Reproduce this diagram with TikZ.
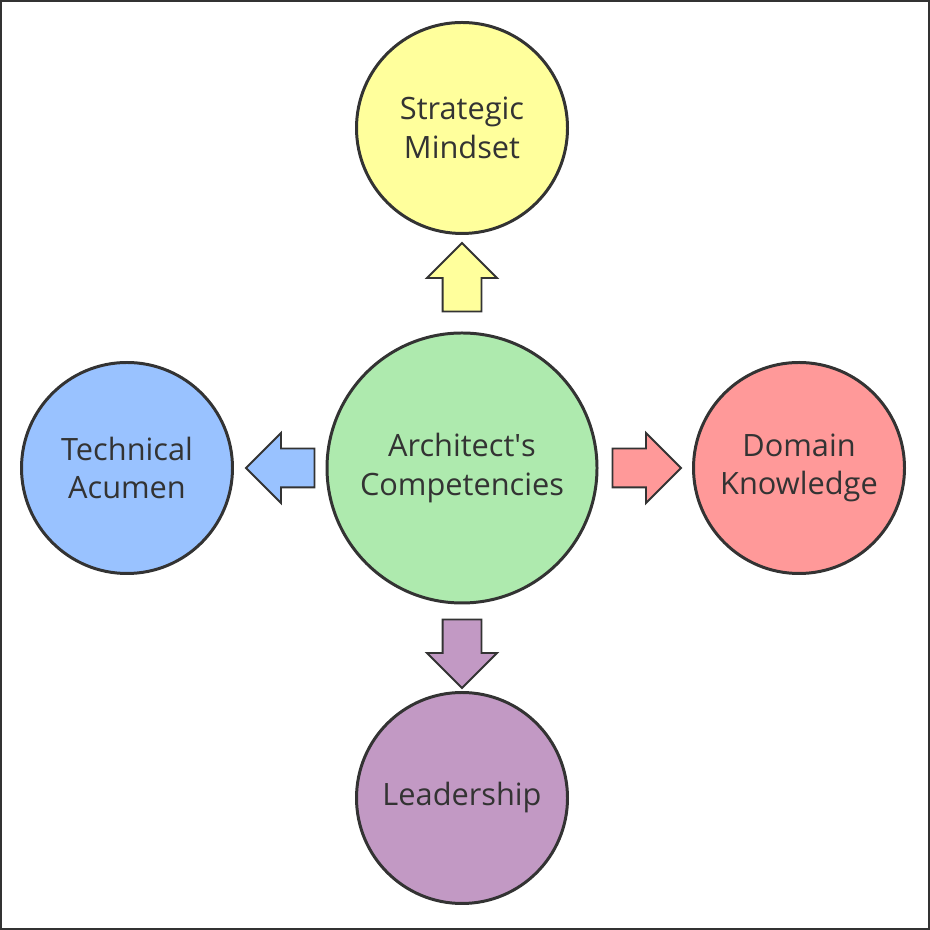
\documentclass[tikz,border=0pt]{standalone}
\usepackage{fontspec}
\setmainfont{Open Sans}
\usetikzlibrary{shapes, shapes.arrows}
\definecolor{edge}{HTML}{333333}
\definecolor{yel}{HTML}{FFFF9C}
\definecolor{grn}{HTML}{AEEAAE}
\definecolor{blu}{HTML}{99C2FF}
\definecolor{red}{HTML}{FF9999}
\definecolor{pur}{HTML}{C299C4}

\begin{document}
\begin{tikzpicture}[
  topic/.style={circle, draw=edge, line width=1.7pt, minimum size=4.22cm, inner sep=0pt, align=center, text=edge, font=\fontsize{17.5}{22}\selectfont},
  blockarrow/.style={single arrow, draw=edge, line width=1.1pt, minimum height=1.37cm, text height=0.37cm, text depth=0.37cm, single arrow head extend=0.31cm, inner sep=0pt}
]
\useasboundingbox (0,0) rectangle (18.6,18.6);
\draw[edge, line width=1.2pt] (0.02,0.02) rectangle (18.58,18.58);

\node[topic, fill=grn, minimum size=5.4cm] (1) at (9.24,9.24) {Architect\textquotesingle s\\Competencies};

\node[topic, fill=yel] (2) at (9.24,16.04) {Strategic\\Mindset};
\node[topic, fill=blu] (3) at (2.54,9.24) {Technical\\Acumen};
\node[topic, fill=red] (4) at (15.98,9.24) {Domain\\Knowledge};
\node[topic, fill=pur] (5) at (9.24,2.64) {Leadership};

\node[blockarrow, fill=yel, rotate=90] (6) at (9.24,12.86) {};
\node[blockarrow, fill=blu, rotate=180] (7) at (5.8,9.24) {};
\node[blockarrow, fill=red] (8) at (12.74,9.24) {};
\node[blockarrow, fill=pur, rotate=-90] (9) at (9.24,5.72) {};
\end{tikzpicture}
\end{document}
